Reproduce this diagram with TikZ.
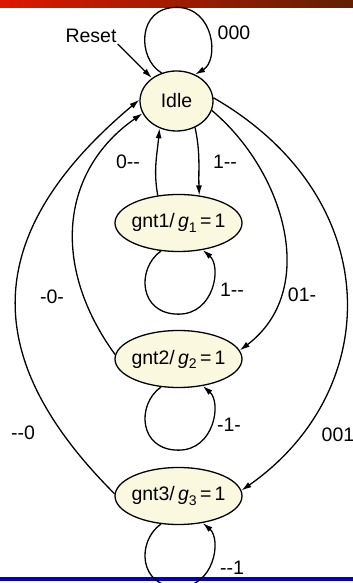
\documentclass[tikz,border=0pt]{standalone}
\usepackage{fontspec}
\setmainfont{Liberation Sans}
\usetikzlibrary{shapes.geometric, arrows.meta}

\definecolor{statefill}{RGB}{250,249,224}
\definecolor{barred}{RGB}{222,24,0}
\definecolor{barbrown}{RGB}{96,32,0}
\definecolor{ruleblue}{RGB}{0,0,190}

% state text: gntN/ gN = 1
\newcommand{\grant}[1]{gnt#1/\,\textit{g}\raisebox{-0.4ex}{\fontsize{14}{14}\selectfont #1}\,=\,1}

\begin{document}
\begin{tikzpicture}[x=1pt, y=1pt, >={Latex[length=10pt,width=6pt]},
    every node/.style={font=\fontsize{19.5}{22}\selectfont},
    state/.style={ellipse, draw, fill=statefill, line width=1.3pt, inner xsep=-8pt, inner ysep=0pt, minimum height=57pt},
    trans/.style={->, line width=1.3pt}]

    \useasboundingbox (0,0) rectangle (353,583);

    % ================= Header and footer rules =================
    \shade[left color=barred, right color=barbrown] (0,575) rectangle (353,582);
    \fill[ruleblue] (0,2) rectangle (353,6);

    % ================= States =================
    \node[state, minimum width=73pt, minimum height=60pt] (idle) at (176.5,482) {Idle};
    \node[state, minimum width=127pt] (g1) at (178.5,360) {\grant{1}};
    \node[state, minimum width=127pt] (g2) at (178.5,224) {\grant{2}};
    \node[state, minimum width=127pt] (g3) at (178.5,87) {\grant{3}};

    % turning points of the self loops
    \coordinate (idletop) at ([yshift=63pt]idle.north);
    \foreach \s in {g1,g2,g3}
        \coordinate (\s bot) at ([yshift=-62pt]\s.south);

    % Reset entry
    \node[inner sep=1pt] (reset) at (91,547) {Reset};
    \draw[trans] (reset.south east) -- (idle.137);

    % ================= Transitions =================
    % Idle waits
    \draw[trans] (idle.118) .. controls +(150:28) and +(180:40) .. (idletop)
        .. controls +(0:38) and +(30:28) .. (idle.55);

    % Idle <-> gnt1
    \draw[trans] (idle.-55) to[out=-78, in=92] (g1.53);
    \draw[trans] (g1.127) to[out=100, in=-95] (idle.-122);

    % Back to Idle from gnt2 and gnt3
    \draw[trans] (g2.176) .. controls +(126:110) and +(215:100) .. (idle.200);
    \draw[trans] (g3.178) .. controls +(135:180) and +(220:220) .. (idle.178);

    % Idle to gnt2 and gnt3
    \draw[trans] (idle.-15) .. controls +(-40:95) and +(37:100) .. (g2.8);
    \draw[trans] (idle.5) .. controls +(-30:200) and +(35:175) .. (g3.5);

    % Grant states hold
    \foreach \s in {g1,g2,g3}
        \draw[trans] (\s.-122) .. controls +(-145:30) and +(180:40) .. (\s bot)
            .. controls +(0:36) and +(-41:25) .. (\s.-48);

    % ================= Input labels =================
    \node (lbl000) at (234,550) {000};
    \node (lblreq1) at (128,421) {0-{}-};
    \node (lblgo1) at (225,421) {1-{}-};
    \node (lblhold1) at (232,293) {1-{}-};
    \node (lblreq2) at (52,286) {-0-};
    \node (lblgo2) at (302,288) {01-};
    \node (lblreq3) at (23,150) {-{}-0};
    \node (lblhold2) at (229,158) {-1-};
    \node (lblgo3) at (338,148) {001};
    \node (lblhold3) at (232,15) {-{}-1};

\end{tikzpicture}
\end{document}
